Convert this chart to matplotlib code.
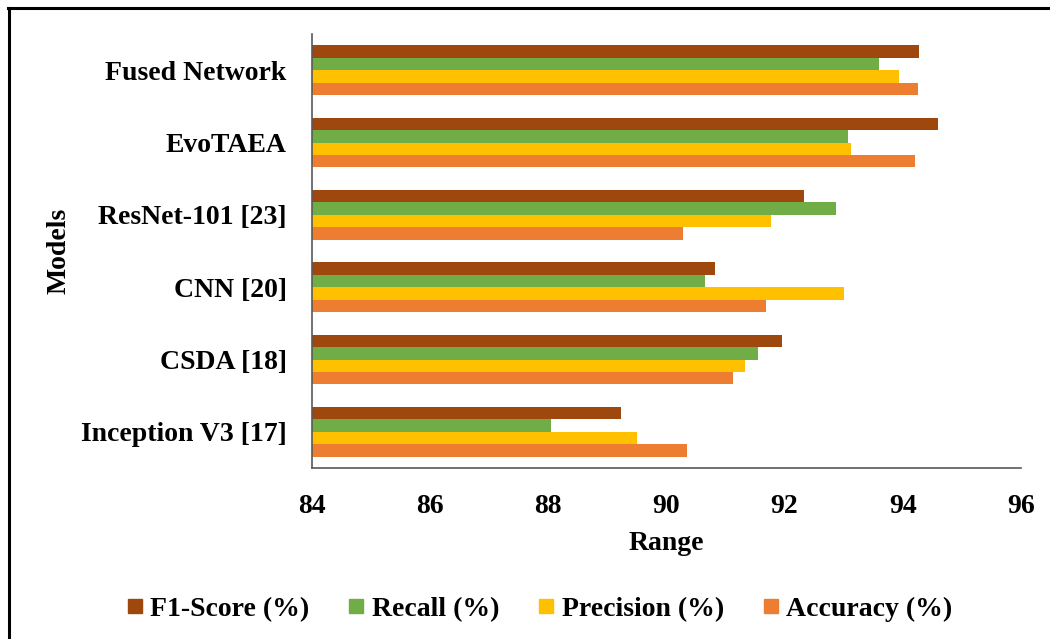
import matplotlib
matplotlib.use("Agg")
import matplotlib.pyplot as plt
import numpy as np
from matplotlib.lines import Line2D

plt.rcParams['font.family'] = ['Liberation Serif', 'DejaVu Serif']
plt.rcParams['font.weight'] = 'bold'

models = ["Inception V3 [17]", "CSDA [18]", "CNN [20]", "ResNet-101 [23]", "EvoTAEA", "Fused Network"]
f1_score = [89.24, 91.96, 90.82, 92.33, 94.59, 94.27]
recall = [88.05, 91.56, 90.66, 92.87, 93.08, 93.60]
precision = [89.50, 91.34, 93.00, 91.77, 93.12, 93.94]
accuracy = [90.35, 91.13, 91.69, 90.29, 94.21, 94.25]

series = [
    ("F1-Score (%)", f1_score, "#9E480E"),
    ("Recall (%)", recall, "#70AD47"),
    ("Precision (%)", precision, "#FFC000"),
    ("Accuracy (%)", accuracy, "#ED7D31"),
]

xmin, xmax = 84, 96
xticks = [84, 86, 88, 90, 92, 94, 96]

fig = plt.figure(figsize=(10.5, 6.39), dpi=100)
ax = fig.add_axes([311.5 / 1050, 1 - 468 / 639, (1021 - 311.5) / 1050, (468 - 34) / 639])

y = np.arange(len(models))
group = 0.69
h = group / len(series)
for i, (name, vals, col) in enumerate(series):
    # first series sits on top within each group
    offs = group / 2 - h / 2 - i * h
    ax.barh(y + offs, np.array(vals) - xmin, left=xmin, height=h, color=col,
            label=name, linewidth=0)

ax.set_xlim(xmin, xmax)
ax.set_ylim(-0.5, len(models) - 0.5)
ax.set_xticks(xticks)
ax.set_xticklabels([str(t) for t in xticks], fontsize=20, fontweight='bold')
ax.set_yticks(y)
ax.set_yticklabels(models, fontsize=20, fontweight='bold')
ax.tick_params(axis='both', length=0)
ax.tick_params(axis='x', pad=19)
ax.tick_params(axis='y', pad=18)

for s in ("top", "right"):
    ax.spines[s].set_visible(False)
for s in ("left", "bottom"):
    ax.spines[s].set_color("#595959")
    ax.spines[s].set_linewidth(1.2)

ax.set_xlabel("Range", fontsize=20, fontweight='bold', labelpad=8)
ax.set_ylabel("Models", fontsize=20, fontweight='bold', labelpad=7)

handles = [Line2D([], [], marker='s', linestyle='none', markersize=10,
                  markerfacecolor=c, markeredgecolor=c) for _, _, c in series]
fig.legend(handles, [n for n, _, _ in series], loc='center',
           bbox_to_anchor=(538 / 1050, 1 - 609 / 639), ncol=4, frameon=False,
           prop={'size': 20, 'weight': 'bold'}, handletextpad=0.15,
           columnspacing=1.3, handlelength=0.8)

# outer frame lines
fig.add_artist(Line2D([8 / 1050, 1.0], [1 - 8 / 639, 1 - 8 / 639], color='black',
                      linewidth=2.2, transform=fig.transFigure))
fig.add_artist(Line2D([9 / 1050, 9 / 1050], [0.0, 1 - 8 / 639], color='black',
                      linewidth=2.2, transform=fig.transFigure))

fig.savefig("out.png", dpi=100)
